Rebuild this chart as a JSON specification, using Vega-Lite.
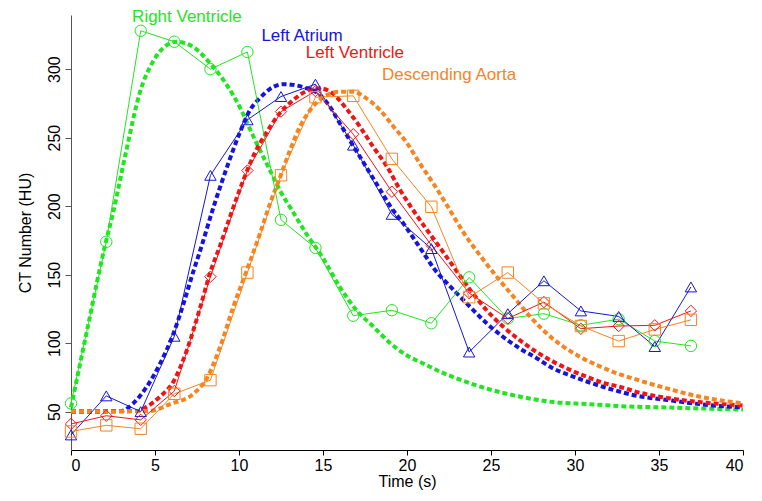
{
  "$schema": "https://vega.github.io/schema/vega-lite/v6.json",
  "width": 672,
  "height": 435,
  "autosize": "none",
  "padding": {"left": 71, "top": 15, "right": 19, "bottom": 51},
  "background": "white",
  "config": {"font": "Liberation Sans", "view": {"stroke": null}},
  "datasets": {
    "obs": [
      {"series": "Right Ventricle", "t": 0, "hu": 56},
      {"series": "Right Ventricle", "t": 2.1, "hu": 174},
      {"series": "Right Ventricle", "t": 4.15, "hu": 328},
      {"series": "Right Ventricle", "t": 6.15, "hu": 320},
      {"series": "Right Ventricle", "t": 8.3, "hu": 300},
      {"series": "Right Ventricle", "t": 10.5, "hu": 312.5},
      {"series": "Right Ventricle", "t": 12.5, "hu": 190},
      {"series": "Right Ventricle", "t": 14.55, "hu": 169.5},
      {"series": "Right Ventricle", "t": 16.8, "hu": 120},
      {"series": "Right Ventricle", "t": 19.1, "hu": 124},
      {"series": "Right Ventricle", "t": 21.45, "hu": 114.5},
      {"series": "Right Ventricle", "t": 23.7, "hu": 148},
      {"series": "Right Ventricle", "t": 26.0, "hu": 118},
      {"series": "Right Ventricle", "t": 28.15, "hu": 121.5},
      {"series": "Right Ventricle", "t": 30.35, "hu": 113},
      {"series": "Right Ventricle", "t": 32.6, "hu": 117.5},
      {"series": "Right Ventricle", "t": 34.75, "hu": 101.5},
      {"series": "Right Ventricle", "t": 36.9, "hu": 98},
      {"series": "Left Atrium", "t": 0, "hu": 33},
      {"series": "Left Atrium", "t": 2.1, "hu": 61.5},
      {"series": "Left Atrium", "t": 4.15, "hu": 50},
      {"series": "Left Atrium", "t": 6.15, "hu": 105},
      {"series": "Left Atrium", "t": 8.3, "hu": 222.5},
      {"series": "Left Atrium", "t": 10.5, "hu": 263},
      {"series": "Left Atrium", "t": 12.5, "hu": 280},
      {"series": "Left Atrium", "t": 14.55, "hu": 289},
      {"series": "Left Atrium", "t": 16.8, "hu": 244.5},
      {"series": "Left Atrium", "t": 19.1, "hu": 194},
      {"series": "Left Atrium", "t": 21.45, "hu": 169},
      {"series": "Left Atrium", "t": 23.7, "hu": 93.5},
      {"series": "Left Atrium", "t": 26.0, "hu": 121.5},
      {"series": "Left Atrium", "t": 28.15, "hu": 145.5},
      {"series": "Left Atrium", "t": 30.35, "hu": 123.5},
      {"series": "Left Atrium", "t": 32.6, "hu": 119.5},
      {"series": "Left Atrium", "t": 34.75, "hu": 97.5},
      {"series": "Left Atrium", "t": 36.9, "hu": 141},
      {"series": "Left Ventricle", "t": 0, "hu": 41},
      {"series": "Left Ventricle", "t": 2.1, "hu": 47},
      {"series": "Left Ventricle", "t": 4.15, "hu": 44},
      {"series": "Left Ventricle", "t": 6.15, "hu": 65},
      {"series": "Left Ventricle", "t": 8.3, "hu": 148.5},
      {"series": "Left Ventricle", "t": 10.5, "hu": 226},
      {"series": "Left Ventricle", "t": 12.5, "hu": 269},
      {"series": "Left Ventricle", "t": 14.55, "hu": 284},
      {"series": "Left Ventricle", "t": 16.8, "hu": 252.5},
      {"series": "Left Ventricle", "t": 19.1, "hu": 210.5},
      {"series": "Left Ventricle", "t": 21.45, "hu": 171.5},
      {"series": "Left Ventricle", "t": 23.7, "hu": 136.5},
      {"series": "Left Ventricle", "t": 26.0, "hu": 118},
      {"series": "Left Ventricle", "t": 28.15, "hu": 130},
      {"series": "Left Ventricle", "t": 30.35, "hu": 110.5},
      {"series": "Left Ventricle", "t": 32.6, "hu": 112.5},
      {"series": "Left Ventricle", "t": 34.75, "hu": 113},
      {"series": "Left Ventricle", "t": 36.9, "hu": 123.5},
      {"series": "Descending Aorta", "t": 0, "hu": 35.5},
      {"series": "Descending Aorta", "t": 2.1, "hu": 40},
      {"series": "Descending Aorta", "t": 4.15, "hu": 37.5},
      {"series": "Descending Aorta", "t": 6.15, "hu": 63},
      {"series": "Descending Aorta", "t": 8.3, "hu": 73},
      {"series": "Descending Aorta", "t": 10.5, "hu": 151.5},
      {"series": "Descending Aorta", "t": 12.5, "hu": 222.5},
      {"series": "Descending Aorta", "t": 14.55, "hu": 279.5},
      {"series": "Descending Aorta", "t": 16.8, "hu": 280.5},
      {"series": "Descending Aorta", "t": 19.1, "hu": 234.5},
      {"series": "Descending Aorta", "t": 21.45, "hu": 199.5},
      {"series": "Descending Aorta", "t": 23.7, "hu": 133.5},
      {"series": "Descending Aorta", "t": 26.0, "hu": 151.5},
      {"series": "Descending Aorta", "t": 28.15, "hu": 129},
      {"series": "Descending Aorta", "t": 30.35, "hu": 112.5},
      {"series": "Descending Aorta", "t": 32.6, "hu": 101.5},
      {"series": "Descending Aorta", "t": 34.75, "hu": 110},
      {"series": "Descending Aorta", "t": 36.9, "hu": 117}
    ],
    "fit": [
      {"series": "Right Ventricle", "t": 0, "hu": 53},
      {"series": "Right Ventricle", "t": 1, "hu": 112},
      {"series": "Right Ventricle", "t": 2, "hu": 170},
      {"series": "Right Ventricle", "t": 2.5, "hu": 195},
      {"series": "Right Ventricle", "t": 3.3, "hu": 241},
      {"series": "Right Ventricle", "t": 4.1, "hu": 283},
      {"series": "Right Ventricle", "t": 4.9, "hu": 306},
      {"series": "Right Ventricle", "t": 5.7, "hu": 317.5},
      {"series": "Right Ventricle", "t": 6.3, "hu": 320},
      {"series": "Right Ventricle", "t": 7.3, "hu": 316},
      {"series": "Right Ventricle", "t": 8.3, "hu": 304},
      {"series": "Right Ventricle", "t": 9.3, "hu": 288},
      {"series": "Right Ventricle", "t": 10.1, "hu": 271},
      {"series": "Right Ventricle", "t": 10.85, "hu": 251},
      {"series": "Right Ventricle", "t": 11.85, "hu": 226},
      {"series": "Right Ventricle", "t": 12.5, "hu": 210},
      {"series": "Right Ventricle", "t": 13.1, "hu": 198},
      {"series": "Right Ventricle", "t": 14.0, "hu": 180},
      {"series": "Right Ventricle", "t": 15.0, "hu": 162},
      {"series": "Right Ventricle", "t": 16.0, "hu": 141},
      {"series": "Right Ventricle", "t": 17.0, "hu": 124},
      {"series": "Right Ventricle", "t": 18.0, "hu": 112},
      {"series": "Right Ventricle", "t": 19.0, "hu": 100},
      {"series": "Right Ventricle", "t": 20.0, "hu": 91},
      {"series": "Right Ventricle", "t": 21.0, "hu": 85},
      {"series": "Right Ventricle", "t": 22.0, "hu": 79},
      {"series": "Right Ventricle", "t": 22.8, "hu": 75},
      {"series": "Right Ventricle", "t": 24.7, "hu": 67},
      {"series": "Right Ventricle", "t": 26.7, "hu": 61},
      {"series": "Right Ventricle", "t": 28.7, "hu": 57},
      {"series": "Right Ventricle", "t": 30.7, "hu": 55.5},
      {"series": "Right Ventricle", "t": 32.7, "hu": 54},
      {"series": "Right Ventricle", "t": 35.5, "hu": 53},
      {"series": "Right Ventricle", "t": 40, "hu": 51.5},
      {"series": "Left Atrium", "t": 0, "hu": 50},
      {"series": "Left Atrium", "t": 3.0, "hu": 50.5},
      {"series": "Left Atrium", "t": 3.7, "hu": 56},
      {"series": "Left Atrium", "t": 4.5, "hu": 68},
      {"series": "Left Atrium", "t": 5.3, "hu": 85},
      {"series": "Left Atrium", "t": 6.1, "hu": 107},
      {"series": "Left Atrium", "t": 6.7, "hu": 129},
      {"series": "Left Atrium", "t": 7.3, "hu": 153},
      {"series": "Left Atrium", "t": 7.7, "hu": 168},
      {"series": "Left Atrium", "t": 8.5, "hu": 200},
      {"series": "Left Atrium", "t": 9.3, "hu": 229},
      {"series": "Left Atrium", "t": 10.06, "hu": 254},
      {"series": "Left Atrium", "t": 10.65, "hu": 270},
      {"series": "Left Atrium", "t": 11.25, "hu": 279},
      {"series": "Left Atrium", "t": 12.04, "hu": 287},
      {"series": "Left Atrium", "t": 12.64, "hu": 289},
      {"series": "Left Atrium", "t": 13.23, "hu": 288.5},
      {"series": "Left Atrium", "t": 14.03, "hu": 286},
      {"series": "Left Atrium", "t": 14.62, "hu": 283},
      {"series": "Left Atrium", "t": 15.42, "hu": 272.5},
      {"series": "Left Atrium", "t": 16.0, "hu": 260.5},
      {"series": "Left Atrium", "t": 16.6, "hu": 248},
      {"series": "Left Atrium", "t": 17.2, "hu": 236},
      {"series": "Left Atrium", "t": 17.8, "hu": 224},
      {"series": "Left Atrium", "t": 18.4, "hu": 212},
      {"series": "Left Atrium", "t": 19.0, "hu": 200},
      {"series": "Left Atrium", "t": 19.8, "hu": 187},
      {"series": "Left Atrium", "t": 20.97, "hu": 166},
      {"series": "Left Atrium", "t": 21.57, "hu": 155},
      {"series": "Left Atrium", "t": 22.76, "hu": 139},
      {"series": "Left Atrium", "t": 23.75, "hu": 126.5},
      {"series": "Left Atrium", "t": 24.74, "hu": 114.5},
      {"series": "Left Atrium", "t": 25.73, "hu": 104.5},
      {"series": "Left Atrium", "t": 26.73, "hu": 96},
      {"series": "Left Atrium", "t": 27.72, "hu": 89},
      {"series": "Left Atrium", "t": 28.7, "hu": 81.5},
      {"series": "Left Atrium", "t": 29.7, "hu": 76.5},
      {"series": "Left Atrium", "t": 30.7, "hu": 72},
      {"series": "Left Atrium", "t": 31.7, "hu": 68},
      {"series": "Left Atrium", "t": 32.7, "hu": 64.5},
      {"series": "Left Atrium", "t": 33.5, "hu": 62},
      {"series": "Left Atrium", "t": 35.5, "hu": 58.5},
      {"series": "Left Atrium", "t": 37.4, "hu": 55.5},
      {"series": "Left Atrium", "t": 40, "hu": 53},
      {"series": "Left Ventricle", "t": 0, "hu": 50},
      {"series": "Left Ventricle", "t": 4.0, "hu": 50.5},
      {"series": "Left Ventricle", "t": 4.5, "hu": 53.5},
      {"series": "Left Ventricle", "t": 5.3, "hu": 61},
      {"series": "Left Ventricle", "t": 6.1, "hu": 72},
      {"series": "Left Ventricle", "t": 6.9, "hu": 95},
      {"series": "Left Ventricle", "t": 7.7, "hu": 126.5},
      {"series": "Left Ventricle", "t": 8.3, "hu": 152},
      {"series": "Left Ventricle", "t": 8.9, "hu": 172},
      {"series": "Left Ventricle", "t": 9.46, "hu": 192},
      {"series": "Left Ventricle", "t": 10.26, "hu": 219},
      {"series": "Left Ventricle", "t": 10.95, "hu": 239},
      {"series": "Left Ventricle", "t": 11.65, "hu": 254},
      {"series": "Left Ventricle", "t": 12.44, "hu": 268},
      {"series": "Left Ventricle", "t": 13.23, "hu": 277.5},
      {"series": "Left Ventricle", "t": 14.03, "hu": 284},
      {"series": "Left Ventricle", "t": 14.82, "hu": 286},
      {"series": "Left Ventricle", "t": 15.6, "hu": 282},
      {"series": "Left Ventricle", "t": 16.4, "hu": 271},
      {"series": "Left Ventricle", "t": 17.2, "hu": 258},
      {"series": "Left Ventricle", "t": 18.0, "hu": 243},
      {"series": "Left Ventricle", "t": 18.8, "hu": 229},
      {"series": "Left Ventricle", "t": 19.58, "hu": 212},
      {"series": "Left Ventricle", "t": 20.37, "hu": 197},
      {"series": "Left Ventricle", "t": 21.17, "hu": 183},
      {"series": "Left Ventricle", "t": 21.77, "hu": 173},
      {"series": "Left Ventricle", "t": 22.76, "hu": 156},
      {"series": "Left Ventricle", "t": 23.75, "hu": 139},
      {"series": "Left Ventricle", "t": 24.74, "hu": 124},
      {"series": "Left Ventricle", "t": 25.73, "hu": 112},
      {"series": "Left Ventricle", "t": 26.73, "hu": 102},
      {"series": "Left Ventricle", "t": 27.72, "hu": 93.5},
      {"series": "Left Ventricle", "t": 28.7, "hu": 86.5},
      {"series": "Left Ventricle", "t": 29.7, "hu": 80.5},
      {"series": "Left Ventricle", "t": 30.7, "hu": 75.5},
      {"series": "Left Ventricle", "t": 31.7, "hu": 71},
      {"series": "Left Ventricle", "t": 32.7, "hu": 68},
      {"series": "Left Ventricle", "t": 33.5, "hu": 65},
      {"series": "Left Ventricle", "t": 35.46, "hu": 60},
      {"series": "Left Ventricle", "t": 37.4, "hu": 57},
      {"series": "Left Ventricle", "t": 40, "hu": 54.5},
      {"series": "Descending Aorta", "t": 0, "hu": 50},
      {"series": "Descending Aorta", "t": 4.7, "hu": 50.5},
      {"series": "Descending Aorta", "t": 5.9, "hu": 55.5},
      {"series": "Descending Aorta", "t": 7.28, "hu": 63},
      {"series": "Descending Aorta", "t": 8.07, "hu": 74},
      {"series": "Descending Aorta", "t": 8.87, "hu": 97},
      {"series": "Descending Aorta", "t": 9.66, "hu": 126.5},
      {"series": "Descending Aorta", "t": 10.46, "hu": 153},
      {"series": "Descending Aorta", "t": 11.25, "hu": 180},
      {"series": "Descending Aorta", "t": 11.85, "hu": 202},
      {"series": "Descending Aorta", "t": 12.44, "hu": 221},
      {"series": "Descending Aorta", "t": 13.04, "hu": 241},
      {"series": "Descending Aorta", "t": 13.63, "hu": 258},
      {"series": "Descending Aorta", "t": 14.23, "hu": 270},
      {"series": "Descending Aorta", "t": 15.02, "hu": 279.5},
      {"series": "Descending Aorta", "t": 16.0, "hu": 283.5},
      {"series": "Descending Aorta", "t": 16.8, "hu": 283.5},
      {"series": "Descending Aorta", "t": 17.6, "hu": 278.5},
      {"series": "Descending Aorta", "t": 18.4, "hu": 270},
      {"series": "Descending Aorta", "t": 19.2, "hu": 258},
      {"series": "Descending Aorta", "t": 20.0, "hu": 246},
      {"series": "Descending Aorta", "t": 20.77, "hu": 231},
      {"series": "Descending Aorta", "t": 21.57, "hu": 216.5},
      {"series": "Descending Aorta", "t": 22.36, "hu": 201},
      {"series": "Descending Aorta", "t": 23.35, "hu": 181},
      {"series": "Descending Aorta", "t": 24.35, "hu": 164},
      {"series": "Descending Aorta", "t": 25.34, "hu": 148.5},
      {"series": "Descending Aorta", "t": 26.33, "hu": 134},
      {"series": "Descending Aorta", "t": 27.32, "hu": 119.5},
      {"series": "Descending Aorta", "t": 28.32, "hu": 107},
      {"series": "Descending Aorta", "t": 29.3, "hu": 97.5},
      {"series": "Descending Aorta", "t": 30.3, "hu": 90},
      {"series": "Descending Aorta", "t": 31.3, "hu": 84},
      {"series": "Descending Aorta", "t": 32.5, "hu": 78},
      {"series": "Descending Aorta", "t": 33.5, "hu": 74},
      {"series": "Descending Aorta", "t": 35.46, "hu": 67},
      {"series": "Descending Aorta", "t": 37.4, "hu": 61},
      {"series": "Descending Aorta", "t": 40, "hu": 56}
    ],
    "labels": [
      {"series": "Right Ventricle", "t": 6.9, "hu": 338, "label": "Right Ventricle"},
      {"series": "Left Atrium", "t": 13.75, "hu": 324.5, "label": "Left Atrium"},
      {"series": "Left Ventricle", "t": 16.9, "hu": 312, "label": "Left Ventricle"},
      {"series": "Descending Aorta", "t": 22.5, "hu": 296, "label": "Descending Aorta"}
    ]
  },
  "encoding": {
    "x": {
      "field": "t", "type": "quantitative",
      "scale": {"domain": [0, 40], "nice": false, "zero": false},
      "axis": {
        "title": "Time (s)", "values": [0, 5, 10, 15, 20, 25, 30, 35, 40],
        "grid": false, "tickSize": 5, "labelFontSize": 16, "titleFontSize": 16,
        "titleFontWeight": "normal", "labelColor": "black", "titleColor": "black",
        "domainColor": "black", "tickColor": "black", "labelPadding": 2, "titlePadding": 0
      }
    },
    "y": {
      "field": "hu", "type": "quantitative",
      "scale": {"domain": [22, 339.5], "nice": false, "zero": false},
      "axis": {
        "title": "CT Number (HU)", "values": [50, 100, 150, 200, 250, 300],
        "grid": false, "tickSize": 6, "labelFontSize": 16, "titleFontSize": 16,
        "titleFontWeight": "normal", "labelColor": "black", "titleColor": "black",
        "domainColor": "#555555", "tickColor": "#555555",
        "labelAngle": -90, "labelAlign": "center", "labelBaseline": "bottom",
        "labelPadding": 3, "titlePadding": 13
      }
    },
    "color": {
      "field": "series", "type": "nominal",
      "scale": {
        "domain": ["Right Ventricle", "Left Atrium", "Left Ventricle", "Descending Aorta"],
        "range": ["#22e522", "#1414dc", "#f01414", "#f7841f"]
      },
      "legend": null
    }
  },
  "layer": [
    {
      "data": {"name": "fit"},
      "mark": {"type": "line", "strokeWidth": 4, "strokeDash": [5, 3], "interpolate": "monotone"}
    },
    {
      "data": {"name": "obs"},
      "mark": {"type": "line", "strokeWidth": 1}
    },
    {
      "data": {"name": "obs"},
      "mark": {"type": "point", "filled": false, "size": 130, "strokeWidth": 1, "opacity": 1},
      "encoding": {
        "shape": {
          "field": "series", "type": "nominal",
          "scale": {
            "domain": ["Right Ventricle", "Left Atrium", "Left Ventricle", "Descending Aorta"],
            "range": ["circle", "triangle-up", "diamond", "square"]
          },
          "legend": null
        }
      }
    },
    {
      "data": {"name": "labels"},
      "mark": {"type": "text", "fontSize": 17, "align": "center", "baseline": "middle"},
      "encoding": {"text": {"field": "label"}}
    }
  ]
}
